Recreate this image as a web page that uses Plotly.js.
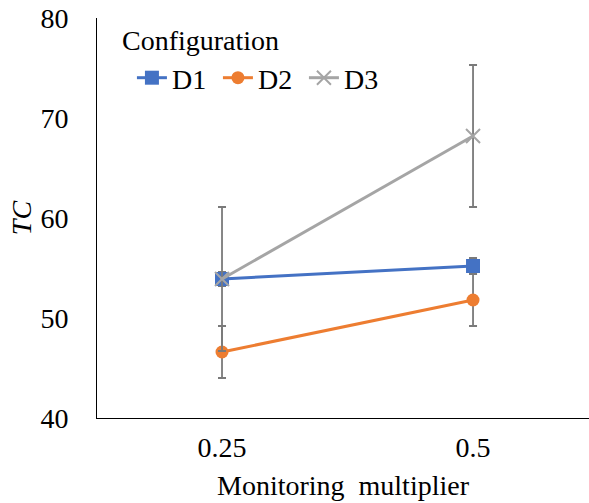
<!DOCTYPE html>
<html>
<head>
<meta charset="utf-8">
<script src="https://cdn.plot.ly/plotly-3.0.1.min.js"></script>
<style>html,body{margin:0;padding:0;background:#fff;}#chart{width:589px;height:503px;}</style>
</head>
<body>
<div id="chart"></div>
<script>
const categories = ["0.25", "0.5"];
const seriesNames = ["D1", "D2", "D3"];
const d1Values = [53.9, 55.2];
const d1Errors = [0.7, 0.8];
const d2Values = [46.6, 51.8];
const d2Errors = [2.6, 2.6];
const d3Values = [53.9, 68.2];
const d3Errors = [7.2, 7.1];
const yTicks = [40, 50, 60, 70, 80];

const xIdx = categories.map((c, i) => i);
const serif = "Liberation Serif";
const errColor = "#7a7a7a";
const FS = 28;

function mk(name, vals, errs, color, symbol, msize) {
  return {
    type: "scatter", mode: "lines+markers", name: name,
    x: xIdx, y: vals,
    line: {color: color, width: 3},
    marker: {color: color, symbol: symbol, size: msize, line: {color: color, width: symbol === "x-thin" ? 2 : 0}},
    error_y: {type: "data", array: errs, visible: true, color: errColor, thickness: 1.8, width: 4}
  };
}

const data = [
  mk(seriesNames[0], d1Values, d1Errors, "#4472C4", "square", 14),
  mk(seriesNames[1], d2Values, d2Errors, "#ED7D31", "circle", 13),
  mk(seriesNames[2], d3Values, d3Errors, "#A5A5A5", "x-thin", 14)
];

const layout = {
  width: 589, height: 503,
  margin: {l: 97, r: 0, t: 18, b: 85},
  paper_bgcolor: "#fff", plot_bgcolor: "#fff",
  font: {family: serif, size: FS, color: "#000"},
  showlegend: true,
  legend: {
    orientation: "h", x: 0.071, y: 0.85, xanchor: "left", yanchor: "middle",
    bgcolor: "rgba(0,0,0,0)",
    font: {family: serif, size: FS},
    itemwidth: 30, tracegroupgap: 0,
    entrywidth: 41, entrywidthmode: "pixels"
  },
  annotations: [{
    text: "Configuration", xref: "paper", yref: "paper",
    x: 0.047, y: 0.945, xanchor: "left", yanchor: "middle",
    showarrow: false, font: {family: serif, size: FS}
  }],
  xaxis: {
    range: [-0.498, 1.462],
    tickmode: "array", tickvals: xIdx, ticktext: categories,
    showgrid: false, zeroline: false,
    showline: true, linecolor: "#000", linewidth: 1,
    ticks: "", ticklen: 0, ticklabelstandoff: 4,
    tickfont: {family: serif, size: FS},
    title: {text: "Monitoring  multiplier", font: {family: serif, size: FS}, standoff: 13}
  },
  yaxis: {
    range: [40, 80],
    tickmode: "array", tickvals: yTicks,
    showgrid: false, zeroline: false,
    showline: true, linecolor: "#000", linewidth: 1,
    ticks: "", ticklen: 0, ticklabelstandoff: 22,
    tickfont: {family: serif, size: FS},
    title: {text: "<i>TC</i>", font: {family: serif, size: FS}, standoff: 0}
  }
};

Plotly.newPlot("chart", data, layout, {staticPlot: true, displayModeBar: false});
</script>
</body>
</html>
